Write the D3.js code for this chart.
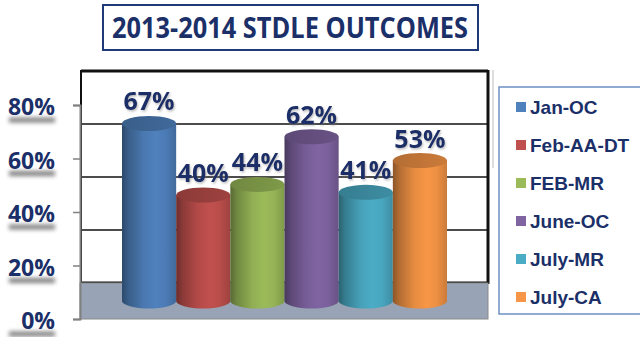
<!DOCTYPE html>
<html>
<head>
<meta charset="utf-8">
<script src="https://cdn.jsdelivr.net/npm/d3@7"></script>
<style>
  html, body { margin: 0; padding: 0; background: #fff; }
  svg { display: block; }
</style>
</head>
<body>
<svg id="chart" width="640" height="337"></svg>
<script>
// data
var categories = ["Jan-OC", "Feb-AA-DT", "FEB-MR", "June-OC", "July-MR", "July-CA"];
var values = [67, 40, 44, 62, 41, 53];
var colors = ["#4f81bd", "#c0504d", "#9bbb59", "#8064a2", "#4bacc6", "#f79646"];
var yTicks = [0, 20, 40, 60, 80];
var title = "2013-2014 STDLE OUTCOMES";

var navy = "#1b2f68",
    svg = d3.select("#chart"),
    defs = svg.append("defs");

// three planes of the 3d box: front axis, bar centres, back wall
var yFront = d3.scaleLinear().domain([0, 80]).range([319, 105]),
    yMid = d3.scaleLinear().domain([0, 80]).range([301, 89]),
    yBack = d3.scaleLinear().domain([0, 80]).range([283, 71]),
    x = d3.scaleBand().domain(categories).range([122, 447]).padding(0),
    ry = 7.5;

var blur = defs.append("filter").attr("id", "blur")
  .attr("x", "-20%").attr("y", "-100%").attr("width", "140%").attr("height", "300%");
blur.append("feGaussianBlur").attr("stdDeviation", 2);

var tshadow = defs.append("filter").attr("id", "tshadow");
tshadow.append("feDropShadow").attr("dx", 1).attr("dy", 1.5)
  .attr("stdDeviation", 1).attr("flood-color", "#777").attr("flood-opacity", 0.5);

// title
svg.append("rect").attr("x", 103).attr("y", 5).attr("width", 375).attr("height", 45)
  .attr("fill", "#fff").attr("stroke", "#1f3a78").attr("stroke-width", 2);
svg.append("text").attr("x", 290).attr("y", 38)
  .attr("text-anchor", "middle")
  .attr("font-family", "'Open Sans', sans-serif").attr("font-weight", 700)
  .attr("font-size", 28).attr("fill", navy)
  .attr("textLength", 356).attr("lengthAdjust", "spacingAndGlyphs")
  .text(title);

// back wall with gridlines
var x0 = 81, x1 = 488;
svg.append("rect").attr("x", x0).attr("y", yBack(80)).attr("width", x1 - x0)
  .attr("height", yBack(0) - yBack(80)).attr("fill", "#fff");
svg.selectAll(".grid").data(yTicks).enter().append("line")
  .attr("class", "grid")
  .attr("x1", x0).attr("x2", x1)
  .attr("y1", function(d) { return yBack(d); })
  .attr("y2", function(d) { return yBack(d); })
  .attr("stroke", "#111").attr("stroke-width", function(d) { return d === 0 || d === 80 ? 3 : 1.6; });
svg.append("line").attr("x1", x0).attr("x2", x0).attr("y1", yBack(80) - 1).attr("y2", yBack(0))
  .attr("stroke", "#111").attr("stroke-width", 2);
svg.append("line").attr("x1", x1).attr("x2", x1).attr("y1", yBack(80) - 1).attr("y2", yBack(0) + 1)
  .attr("stroke", "#111").attr("stroke-width", 3);

// floor
svg.append("rect").attr("x", 80).attr("y", yBack(0)).attr("width", x1 - 80)
  .attr("height", yFront(0) - yBack(0)).attr("fill", "#98a4b5")
  .attr("stroke", "#8a8a8a").attr("stroke-width", 1);

// y axis on the front plane
var axis = svg.append("g").attr("transform", "translate(80,0)")
  .call(d3.axisLeft(yFront).tickValues(yTicks).tickSize(7).tickPadding(18)
    .tickFormat(function(d) { return d + "%"; }));
axis.select(".domain").attr("stroke", "#808080").attr("stroke-width", 2);
axis.selectAll(".tick line").attr("stroke", "#808080").attr("stroke-width", 1.5);
axis.selectAll(".tick").insert("rect", "text")
  .attr("x", -71).attr("y", 12).attr("width", 46).attr("height", 5)
  .attr("fill", "#555").attr("opacity", 0.75).attr("filter", "url(#blur)");
axis.selectAll(".tick text")
  .attr("font-family", "'Open Sans', sans-serif").attr("font-weight", 700)
  .attr("font-size", 23).attr("fill", navy).attr("dy", "0.42em");

// cylinder gradients
colors.forEach(function(c, i) {
  var base = d3.color(c),
      g = defs.append("linearGradient").attr("id", "body" + i)
        .attr("x1", 0).attr("x2", 1).attr("y1", 0).attr("y2", 0);
  [[0, base.darker(1.6)], [0.12, base.darker(0.9)], [0.4, base.darker(0.2)],
   [0.62, base], [0.8, base.darker(0.1)], [1, base.darker(0.55)]].forEach(function(s) {
    g.append("stop").attr("offset", s[0]).attr("stop-color", s[1].formatHex());
  });
  var t = defs.append("linearGradient").attr("id", "top" + i)
    .attr("x1", 0).attr("x2", 1).attr("y1", 0).attr("y2", 0);
  t.append("stop").attr("offset", 0).attr("stop-color", base.darker(0.9).formatHex());
  t.append("stop").attr("offset", 1).attr("stop-color", base.darker(0.55).formatHex());
});

var bw = x.bandwidth(), rx = bw / 2;
var bars = svg.selectAll(".bar").data(values).enter().append("g").attr("class", "bar");
bars.append("path")
  .attr("d", function(d, i) {
    var l = x(categories[i]), r = l + bw, top = yMid(d), bot = yMid(0);
    return "M" + l + "," + top + "L" + l + "," + bot +
      "A" + rx + "," + ry + " 0 0 0 " + r + "," + bot + "L" + r + "," + top + "Z";
  })
  .attr("fill", function(d, i) { return "url(#body" + i + ")"; });
bars.append("ellipse")
  .attr("cx", function(d, i) { return x(categories[i]) + rx; })
  .attr("cy", function(d) { return yMid(d); })
  .attr("rx", rx).attr("ry", ry)
  .attr("fill", function(d, i) { return "url(#top" + i + ")"; });

// value labels
svg.selectAll(".val").data(values).enter().append("text")
  .attr("class", "val")
  .attr("x", function(d, i) { return x(categories[i]) + rx; })
  .attr("y", function(d) { return yMid(d) - 13; })
  .attr("text-anchor", "middle")
  .attr("font-family", "'Open Sans', sans-serif").attr("font-weight", 700)
  .attr("font-size", 25).attr("fill", navy).attr("filter", "url(#tshadow)")
  .text(function(d) { return d + "%"; });

// legend
svg.append("line").attr("x1", 493).attr("x2", 493).attr("y1", 70).attr("y2", 168)
  .attr("stroke", "#ddd").attr("stroke-width", 2);
svg.append("rect").attr("x", 499).attr("y", 87).attr("width", 145).attr("height", 227)
  .attr("fill", "#fff").attr("stroke", "#6d8fc4").attr("stroke-width", 1.5);
var ly = d3.scalePoint().domain(categories).range([107, 297]);
var items = svg.selectAll(".leg").data(categories).enter().append("g")
  .attr("class", "leg")
  .attr("transform", function(d) { return "translate(516," + ly(d) + ")"; });
items.append("rect").attr("x", 0).attr("y", -5).attr("width", 10).attr("height", 10)
  .attr("fill", function(d, i) { return colors[i]; });
items.append("text").attr("x", 14).attr("y", 7)
  .attr("font-family", "'Liberation Sans', Arial, sans-serif").attr("font-weight", 700)
  .attr("font-size", 19).attr("fill", navy)
  .text(function(d) { return d; });
</script>
</body>
</html>
